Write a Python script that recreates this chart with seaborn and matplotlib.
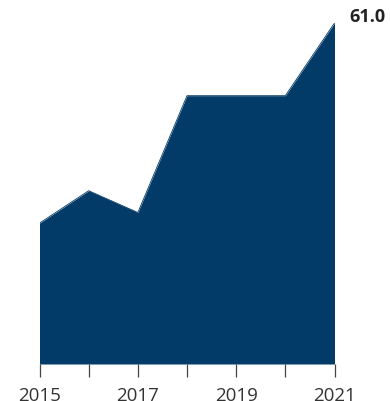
import matplotlib
matplotlib.use("Agg")
import matplotlib.pyplot as plt
import seaborn as sns
import pandas as pd

years = [2015, 2016, 2017, 2018, 2019, 2020, 2021]
values = [25.2, 31.0, 27.1, 48.0, 48.0, 48.0, 61.0]
major_ticks = [2015, 2017, 2019, 2021]
minor_ticks = [2016, 2018, 2020]

color = "#023a68"
df = pd.DataFrame({"year": years, "value": values})

sns.set_style("white")
plt.rcParams['font.family'] = ['Open Sans', 'DejaVu Sans']

fig = plt.figure(figsize=(3.9, 4.01), dpi=100)
ax = fig.add_axes([39.5/390, 37/401, 295/390, 341/401])
ax.fill_between(df["year"], 0, df["value"], color=color, linewidth=0)
sns.lineplot(data=df, x="year", y="value", ax=ax, color=color, linewidth=0.6)

ax.set_xlim(2015, 2021)
ax.set_ylim(0, 61)
for s in ax.spines.values():
    s.set_visible(False)
ax.set_yticks([])
ax.set_xticks(major_ticks)
ax.set_xticks(minor_ticks, minor=True)
ax.set_xticklabels([str(t) for t in major_ticks], fontsize=13.5, color="#333333")
ax.tick_params(axis="x", which="both", length=9.5, width=0.9, color="#444444",
               bottom=True, pad=7)
ax.set_xlabel("")
ax.set_ylabel("")

ax.annotate(f"{values[-1]:.1f}", xy=(years[-1], values[-1]), xytext=(10.5, 4.5),
            textcoords="offset points", fontsize=13, fontweight="bold",
            color="#222222", ha="left", va="center", annotation_clip=False)

fig.savefig("out.png", dpi=100)
